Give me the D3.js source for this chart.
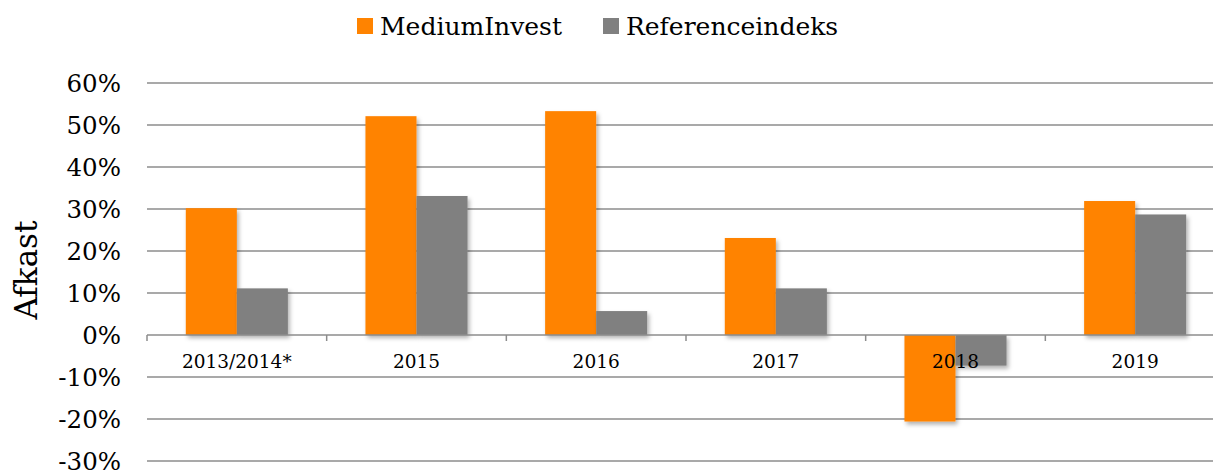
<!DOCTYPE html>
<html lang="da">

<head>
    <meta charset="utf-8">
    <script src="https://d3js.org/d3.v7.min.js"></script>
    <style>
        body { margin: 0; background: #fff; }
        svg { display: block; }
    </style>
</head>

<body>
    <div id="chart"></div>

    <script>
        // Data
        const categories = ["2013/2014*", "2015", "2016", "2017", "2018", "2019"];
        const seriesNames = ["MediumInvest", "Referenceindeks"];
        const mediumInvest = [30.2, 52.1, 53.3, 23.1, -20.6, 31.9];
        const referenceindeks = [11.1, 33.1, 5.7, 11.1, -7.3, 28.7];
        const yTicks = [-30, -20, -10, 0, 10, 20, 30, 40, 50, 60];
        const colors = ["#ff8300", "#808080"];

        const width = 1213, height = 473;
        const font = "'DejaVu Serif', serif";

        const svg = d3.select("#chart")
            .append("svg")
            .attr("width", width)
            .attr("height", height)
            .style("font-family", font);

        // drop shadow like the spreadsheet bars
        const defs = svg.append("defs");
        defs.append("filter")
            .attr("id", "shadow")
            .attr("x", "-20%").attr("y", "-20%")
            .attr("width", "150%").attr("height", "150%")
            .append("feDropShadow")
            .attr("dx", 2).attr("dy", 3)
            .attr("stdDeviation", 2)
            .attr("flood-color", "#000")
            .attr("flood-opacity", 0.3);

        // Scales
        const x0 = d3.scaleBand()
            .domain(categories)
            .range([147, 1225])
            .padding(0);

        const x1 = d3.scaleBand()
            .domain(seriesNames)
            .range([0, x0.bandwidth()])
            .paddingInner(0)
            .paddingOuter(0.76);

        const y = d3.scaleLinear()
            .domain([-30, 60])
            .range([461, 83]);

        // Grid lines
        svg.append("g")
            .selectAll("line")
            .data(yTicks.filter(d => d !== 0))
            .join("line")
            .attr("x1", 147)
            .attr("x2", width)
            .attr("y1", d => y(d))
            .attr("y2", d => y(d))
            .attr("stroke", "#8c8c8c")
            .attr("stroke-width", 1.5);

        // Y tick labels
        svg.append("g")
            .selectAll("text")
            .data(yTicks)
            .join("text")
            .attr("x", 121)
            .attr("y", d => y(d))
            .attr("dy", "0.36em")
            .attr("text-anchor", "end")
            .attr("font-size", 24.5)
            .attr("fill", "#000")
            .text(d => d + "%");

        // Axis title
        svg.append("text")
            .attr("transform", "translate(37,270) rotate(-90)")
            .attr("text-anchor", "middle")
            .attr("font-size", 31)
            .attr("fill", "#000")
            .text("Afkast");

        // Bars
        const rows = categories.map((c, i) => ({
            cat: c,
            vals: [
                { key: seriesNames[0], v: mediumInvest[i], c: colors[0] },
                { key: seriesNames[1], v: referenceindeks[i], c: colors[1] }
            ]
        }));

        svg.append("g")
            .selectAll("g")
            .data(rows)
            .join("g")
            .attr("transform", d => `translate(${x0(d.cat)},0)`)
            .selectAll("rect")
            .data(d => d.vals)
            .join("rect")
            .attr("x", d => x1(d.key))
            .attr("width", x1.bandwidth())
            .attr("y", d => y(Math.max(0, d.v)))
            .attr("height", d => Math.abs(y(d.v) - y(0)))
            .attr("fill", d => d.c)
            .attr("filter", "url(#shadow)");

        // Zero axis with category ticks
        const axis = svg.append("g");
        axis.append("line")
            .attr("x1", 147).attr("x2", width)
            .attr("y1", y(0)).attr("y2", y(0))
            .attr("stroke", "#8c8c8c")
            .attr("stroke-width", 1.5);
        axis.selectAll("line.tick")
            .data(categories)
            .join("line")
            .attr("class", "tick")
            .attr("x1", d => x0(d)).attr("x2", d => x0(d))
            .attr("y1", y(0)).attr("y2", y(0) + 6)
            .attr("stroke", "#8c8c8c")
            .attr("stroke-width", 1.5);

        // Category labels
        svg.append("g")
            .selectAll("text")
            .data(categories)
            .join("text")
            .attr("x", d => x0(d) + x0.bandwidth() / 2)
            .attr("y", y(0) + 33)
            .attr("text-anchor", "middle")
            .attr("font-size", 18.5)
            .attr("fill", "#000")
            .text(d => d);

        // Legend
        const legend = svg.append("g")
            .attr("font-size", 25)
            .attr("fill", "#000");
        const legendX = [357, 603];
        seriesNames.forEach((name, i) => {
            legend.append("rect")
                .attr("x", legendX[i])
                .attr("y", 18)
                .attr("width", 16)
                .attr("height", 16)
                .attr("fill", colors[i]);
            legend.append("text")
                .attr("x", legendX[i] + 23)
                .attr("y", 35)
                .text(name);
        });
    </script>
</body>

</html>
